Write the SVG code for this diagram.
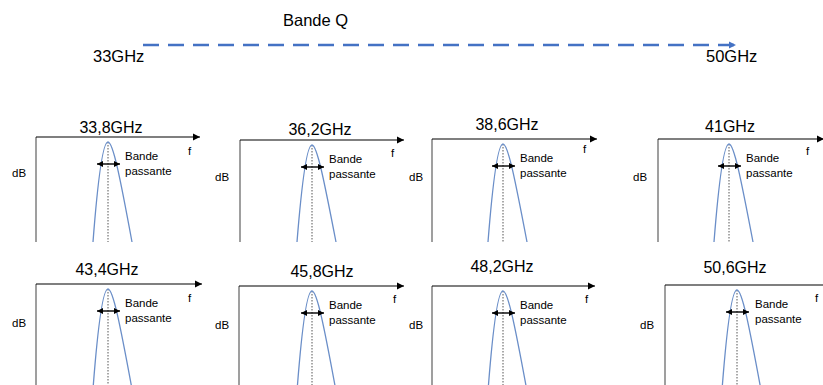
<svg xmlns="http://www.w3.org/2000/svg" width="823" height="385" viewBox="0 0 823 385">
<style>
text{font-family:"Liberation Sans","DejaVu Sans",sans-serif;fill:#000}
.title{font-size:16px;text-anchor:middle}
.top{font-size:16.5px}
.small{font-size:11.5px}
.vax{stroke:#7f7f7f;stroke-width:1.5;fill:none}
.hax{stroke:#000;stroke-width:1.2;fill:none}
.curve{stroke:#6a8ec8;stroke-width:1.3;fill:none}
.dot{stroke:#555;stroke-width:1;stroke-dasharray:1.5 1.5;fill:none}
.bw{stroke:#000;stroke-width:1.4;fill:none;marker-start:url(#aS);marker-end:url(#aE)}
.dash{stroke:#4472c4;stroke-width:2.5;stroke-dasharray:16 9;fill:none}
</style>
<defs>
<marker id="ax" markerWidth="8" markerHeight="8" refX="7" refY="4" orient="auto" markerUnits="userSpaceOnUse"><path d="M0,0.5 L7,4 L0,7.5 Z" fill="#000"/></marker>
<marker id="aE" markerWidth="7" markerHeight="7" refX="6" refY="3.5" orient="auto" markerUnits="userSpaceOnUse"><path d="M0,0.5 L6,3.5 L0,6.5 Z" fill="#000"/></marker>
<marker id="aS" markerWidth="7" markerHeight="7" refX="0" refY="3.5" orient="auto" markerUnits="userSpaceOnUse"><path d="M6,0.5 L0,3.5 L6,6.5 Z" fill="#000"/></marker>
<marker id="blue" markerWidth="8" markerHeight="8" refX="7" refY="4" orient="auto" markerUnits="userSpaceOnUse"><path d="M0,0.5 L7,4 L0,7.5 Z" fill="#4472c4"/></marker>
</defs>

<g id="connectors">
<path class="dash" d="M143,45 L736,45" marker-end="url(#blue)"/>
</g>

<g id="bandeQ">
<text class="top" x="283" y="26">Bande Q</text>
<text class="top" x="93" y="62">33GHz</text>
<text class="top" x="706" y="62">50GHz</text>
</g>

<g id="p1" transform="translate(108,137)">
<text class="title" x="3" y="-4">33,8GHz</text>
<path class="vax" d="M-72,0 V105"/>
<path class="hax" d="M-72,0 H92" marker-end="url(#ax)"/>
<path class="dot" d="M0,5 V105"/>
<path class="curve" d="M-15,105 C-10,40 -5,5 0,5 C5,5 12,40 24,105"/>
<path class="bw" d="M-11,27 H12"/>
<text class="small" x="17" y="23">Bande</text>
<text class="small" x="17" y="38">passante</text>
<text class="small" x="80" y="18">f</text>
<text class="small" x="-96" y="40">dB</text>
</g>

<g id="p2" transform="translate(312,140)">
<text class="title" x="8" y="-5">36,2GHz</text>
<path class="vax" d="M-72,0 V102"/>
<path class="hax" d="M-72,0 H92" marker-end="url(#ax)"/>
<path class="dot" d="M0,5 V102"/>
<path class="curve" d="M-15,102 C-10,40 -5,5 0,5 C5,5 12,40 24,102"/>
<path class="bw" d="M-11,27 H12"/>
<text class="small" x="17" y="23">Bande</text>
<text class="small" x="17" y="38">passante</text>
<text class="small" x="79" y="17">f</text>
<text class="small" x="-97" y="41">dB</text>
</g>

<g id="p3" transform="translate(503,139)">
<text class="title" x="4" y="-9">38,6GHz</text>
<path class="vax" d="M-71,0 V103"/>
<path class="hax" d="M-71,0 H94" marker-end="url(#ax)"/>
<path class="dot" d="M0,5 V103"/>
<path class="curve" d="M-15,103 C-10,40 -5,5 0,5 C5,5 12,40 24,103"/>
<path class="bw" d="M-11,27 H12"/>
<text class="small" x="17" y="23">Bande</text>
<text class="small" x="17" y="38">passante</text>
<text class="small" x="80" y="14">f</text>
<text class="small" x="-94" y="42">dB</text>
</g>

<g id="p4" transform="translate(729,139)">
<text class="title" x="1" y="-7">41GHz</text>
<path class="vax" d="M-71,0 V103"/>
<path class="hax" d="M-71,0 H95" marker-end="url(#ax)"/>
<path class="dot" d="M0,5 V103"/>
<path class="curve" d="M-15,103 C-10,40 -5,5 0,5 C5,5 12,40 24,103"/>
<path class="bw" d="M-11,27 H12"/>
<text class="small" x="17" y="23">Bande</text>
<text class="small" x="17" y="38">passante</text>
<text class="small" x="77" y="16">f</text>
<text class="small" x="-96" y="42">dB</text>
</g>

<g id="p5" transform="translate(108,284)">
<text class="title" x="-1" y="-9">43,4GHz</text>
<path class="vax" d="M-72,0 V110"/>
<path class="hax" d="M-72,0 H94" marker-end="url(#ax)"/>
<path class="dot" d="M0,5 V110"/>
<path class="curve" d="M-15,105 C-10,40 -5,5 0,5 C5,5 12,40 24,105"/>
<path class="bw" d="M-11,27 H12"/>
<text class="small" x="17" y="23">Bande</text>
<text class="small" x="17" y="38">passante</text>
<text class="small" x="80" y="18">f</text>
<text class="small" x="-96" y="43">dB</text>
</g>

<g id="p6" transform="translate(312,286)">
<text class="title" x="10" y="-9">45,8GHz</text>
<path class="vax" d="M-73,0 V110"/>
<path class="hax" d="M-73,0 H92" marker-end="url(#ax)"/>
<path class="dot" d="M0,5 V110"/>
<path class="curve" d="M-15,105 C-10,40 -5,5 0,5 C5,5 12,40 24,105"/>
<path class="bw" d="M-11,27 H12"/>
<text class="small" x="17" y="23">Bande</text>
<text class="small" x="17" y="38">passante</text>
<text class="small" x="81" y="17">f</text>
<text class="small" x="-97" y="43">dB</text>
</g>

<g id="p7" transform="translate(503,286)">
<text class="title" x="-1" y="-14">48,2GHz</text>
<path class="vax" d="M-71,0 V110"/>
<path class="hax" d="M-71,0 H92" marker-end="url(#ax)"/>
<path class="dot" d="M0,5 V110"/>
<path class="curve" d="M-15,105 C-10,40 -5,5 0,5 C5,5 12,40 24,105"/>
<path class="bw" d="M-11,27 H12"/>
<text class="small" x="17" y="23">Bande</text>
<text class="small" x="17" y="38">passante</text>
<text class="small" x="82" y="17">f</text>
<text class="small" x="-94" y="43">dB</text>
</g>

<g id="p8" transform="translate(737,285)">
<text class="title" x="-2" y="-12">50,6GHz</text>
<path class="vax" d="M-72,0 V110"/>
<path class="hax" d="M-72,0 H90"/>
<path class="dot" d="M0,5 V110"/>
<path class="curve" d="M-15,105 C-10,40 -5,5 0,5 C5,5 12,40 24,105"/>
<path class="bw" d="M-11,27 H12"/>
<text class="small" x="18" y="23">Bande</text>
<text class="small" x="18" y="38">passante</text>
<text class="small" x="78" y="17">f</text>
<text class="small" x="-97" y="44">dB</text>
</g>
</svg>
